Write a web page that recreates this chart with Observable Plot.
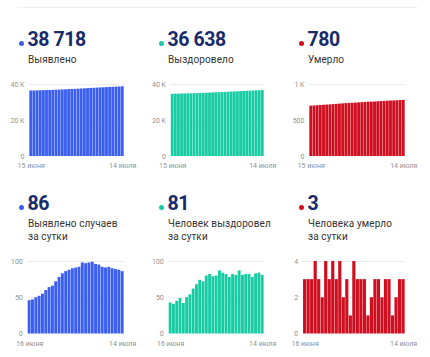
<!DOCTYPE html>
<html><head><meta charset="utf-8">
<script src="https://cdn.jsdelivr.net/npm/d3@7"></script>
<script src="https://cdn.jsdelivr.net/npm/@observablehq/plot@0.6"></script>
<style>
body{margin:0;background:#fff;width:430px;height:357px;overflow:hidden;position:relative;font-family:Roboto,sans-serif}
.abs{position:absolute}
.num{font-size:19.5px;line-height:20px;font-weight:700;color:#172b6b;white-space:nowrap;letter-spacing:-0.4px}
.lbl{font-size:10px;line-height:13.3px;color:#333;white-space:nowrap;letter-spacing:0.1px}
.dot{width:5px;height:5px;border-radius:50%}
svg{overflow:visible}
</style></head><body>
<div class="abs" style="left:17px;top:7px;width:400px;height:1px;background:#f0f0f0"></div>
<script>
// ---- data ----
const days = ["15.06","16.06","17.06","18.06","19.06","20.06","21.06","22.06","23.06","24.06","25.06","26.06","27.06","28.06","29.06","30.06","01.07","02.07","03.07","04.07","05.07","06.07","07.07","08.07","09.07","10.07","11.07","12.07","13.07","14.07"];
const dailyDays = days.slice(1);

const cumCases = [36387,36433,36480,36530,36582,36637,36697,36761,36827,36899,36977,37060,37146,37234,37324,37415,37507,37605,37702,37800,37899,37995,38090,38182,38273,38365,38455,38544,38632,38718];
const cumRecovered = [34565,34608,34649,34694,34743,34785,34835,34889,34951,35019,35093,35165,35245,35327,35406,35486,35573,35657,35739,35817,35899,35980,36067,36148,36230,36312,36390,36473,36557,36638];
const cumDeaths = [699,702,705,708,712,715,717,721,724,728,731,735,737,740,741,745,748,751,754,755,757,760,763,765,768,771,772,774,777,780];

const dailyCases = [46,47,50,52,55,60,64,66,72,78,83,86,88,90,91,92,98,97,98,99,96,95,92,91,92,90,89,88,86];
const dailyRecovered = [43,41,45,49,42,50,54,62,68,74,72,80,82,79,80,87,84,82,78,82,81,87,81,82,82,78,83,84,81];
const dailyDeaths = [3,3,3,4,3,2,4,3,4,3,4,2,3,1,4,3,3,3,1,2,3,3,2,3,3,1,2,3,3];

const headlines = ["38 718","36 638","780","86","81","3"];
const titles = [["Выявлено"],["Выздоровело"],["Умерло"],["Выявлено случаев","за сутки"],["Человек выздоровел","за сутки"],["Человека умерло","за сутки"]];
const topXLabels = ["15 июня","14 июля"];
const bottomXLabels = ["16 июня","14 июля"];
const yTicksK = [0,20000,40000], yLabelsK = ["0","20 K","40 K"];
const yTicksD = [0,500,1000], yLabelsD = ["0","500","1 K"];
const yTicksDaily = [0,50,100], yLabelsDaily = ["0","50","100"];
const yTicksDeaths = [0,2,4], yLabelsDeaths = ["0","2","4"];

// ---- layout / style ----
const BLUE="#3a5ef2", TEAL="#17cba3", RED="#cf0f1f";
const series = [
  {days, values: cumCases, color: BLUE, ticks: yTicksK, yl: yLabelsK, xl: topXLabels},
  {days, values: cumRecovered, color: TEAL, ticks: yTicksK, yl: yLabelsK, xl: topXLabels},
  {days, values: cumDeaths, color: RED, ticks: yTicksD, yl: yLabelsD, xl: topXLabels},
  {days: dailyDays, values: dailyCases, color: BLUE, ticks: yTicksDaily, yl: yLabelsDaily, xl: bottomXLabels},
  {days: dailyDays, values: dailyRecovered, color: TEAL, ticks: yTicksDaily, yl: yLabelsDaily, xl: bottomXLabels},
  {days: dailyDays, values: dailyDeaths, color: RED, ticks: yTicksDeaths, yl: yLabelsDeaths, xl: bottomXLabels}
];
const layout = [
  {ox:0,   row:0, ml:29,   mr:16, pad:0.1, xpad:6.5},
  {ox:140, row:0, ml:30.5, mr:16, pad:0.1, xpad:6.5},
  {ox:280, row:0, ml:29,   mr:15, pad:0.1, xpad:6.5},
  {ox:0,   row:1, ml:27.3, mr:16, pad:0.12, xpad:7.5},
  {ox:140, row:1, ml:28.3, mr:16, pad:0.12, xpad:7.5},
  {ox:280, row:1, ml:22.7, mr:15, pad:0.1, xpad:7.5}
];
const rowY = [
  {dot:43, num:30.2, lbl:53.2, svg:74, plotH:72},
  {dot:207, num:194, lbl:216.6, svg:251, plotH:72.5}
];

series.forEach((s, i) => {
  const L = layout[i], R = rowY[L.row];
  const dot = document.createElement("div");
  dot.className = "abs dot";
  dot.style.cssText = `left:${L.ox+18.5}px;top:${R.dot-2.5}px;background:${s.color}`;
  document.body.appendChild(dot);

  const num = document.createElement("div");
  num.className = "abs num";
  num.style.cssText = `left:${L.ox+27.5}px;top:${R.num}px`;
  num.textContent = headlines[i];
  document.body.appendChild(num);

  const lbl = document.createElement("div");
  lbl.className = "abs lbl";
  lbl.style.cssText = `left:${L.ox+28}px;top:${R.lbl}px`;
  lbl.innerHTML = titles[i].join("<br>");
  document.body.appendChild(lbl);

  const data = s.days.map((d, j) => ({day: d, value: s.values[j]}));
  const first = s.days[0], last = s.days[s.days.length - 1];
  const chart = Plot.plot({
    width: 140,
    height: 10 + R.plotH + 20,
    marginLeft: L.ml, marginRight: L.mr, marginTop: 10, marginBottom: 20,
    style: {fontFamily: "Roboto, sans-serif", fontSize: "7px", color: "#8f8f8f", background: "transparent", overflow: "visible"},
    x: {type: "band", domain: s.days, padding: L.pad, round: false, tickSize: 0, tickPadding: L.xpad,
        tickFormat: d => d === first ? s.xl[0] : d === last ? s.xl[1] : "", label: null},
    y: {domain: [0, s.ticks[s.ticks.length - 1]], ticks: s.ticks, tickSize: 0, tickPadding: 5,
        tickFormat: d => s.yl[s.ticks.indexOf(d)], label: null},
    marks: [
      Plot.ruleY(s.ticks.slice(1), {stroke: "#ebebeb", strokeWidth: 1}),
      Plot.barY(data, {x: "day", y: "value", fill: s.color})
    ]
  });
  const wrap = document.createElement("div");
  wrap.className = "abs";
  wrap.style.cssText = `left:${L.ox}px;top:${R.svg}px`;
  wrap.appendChild(chart);
  document.body.appendChild(wrap);
});
</script>
</body></html>
